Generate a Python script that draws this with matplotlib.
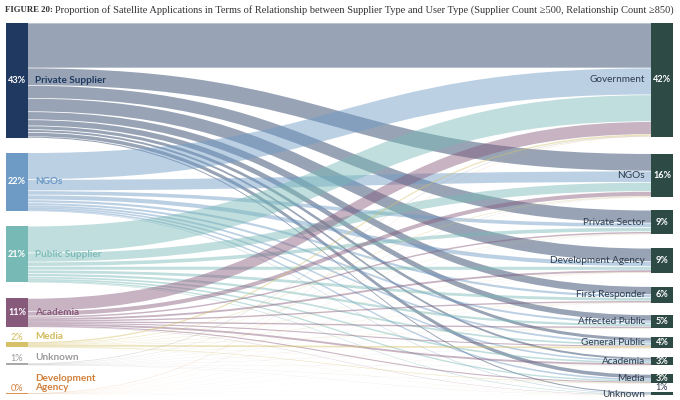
import numpy as np
import matplotlib
matplotlib.use("Agg")
import matplotlib.pyplot as plt
from matplotlib.path import Path
from matplotlib.patches import PathPatch, Rectangle

# supplier types (left) and user types (right)
suppliers = ["Private Supplier", "NGOs", "Public Supplier", "Academia",
             "Media", "Unknown", "Development\nAgency"]
users = ["Government", "NGOs", "Private Sector", "Development Agency",
         "First Responder", "Affected Public", "General Public",
         "Academia", "Media", "Unknown"]

# share of relationships in % (rows = suppliers, cols = users)
flows = np.array([
    [16.8, 6.5, 4.8, 5.0, 3.0, 2.3, 1.4, 1.0, 1.6, 0.4],
    [10.0, 4.2, 1.6, 1.8, 1.1, 1.0, 0.7, 0.6, 0.6, 0.2],
    [10.0, 3.4, 1.6, 1.4, 1.3, 1.1, 0.9, 0.6, 0.5, 0.2],
    [4.8, 1.8, 0.8, 0.7, 0.5, 0.5, 0.4, 0.7, 0.4, 0.1],
    [0.5, 0.2, 0.1, 0.1, 0.1, 0.1, 0.6, 0.05, 0.2, 0.05],
    [0.2, 0.1, 0.05, 0.05, 0.05, 0.05, 0.05, 0.05, 0.05, 0.05],
    [0.1, 0.05, 0.02, 0.03, 0.02, 0.02, 0.02, 0.01, 0.01, 0.02],
])

src_colors = ["#1f3960", "#6e9ac6", "#76b9b5", "#875a7b", "#d6c168", "#a9a9a9", "#e0904e"]
src_text = ["#1f3960", "#6e9ac6", "#7fbdb9", "#875a7b", "#d2bb5a", "#9a9a9a", "#d0803c"]
dst_color = "#2d4a45"
dst_text = "#2e3d4f"

# layout (pixel units of the 680x400 canvas)
ky = 2.68
top = 23
left_x0, left_x1 = 6, 28
right_x0, right_x1 = 651, 673
left_gaps = [15, 15, 16, 15, 16]
right_gaps = [17, 13, 14, 14, 12, 9, 9, 9, 9]
bottom = 394

src_val = flows.sum(axis=1)
dst_val = flows.sum(axis=0)

# node positions
src_y = []
y = top
for i, v in enumerate(src_val):
    h = v * ky
    if i == len(src_val) - 1:
        y = bottom - h
    src_y.append((y, y + h))
    if i < len(left_gaps):
        y = y + h + left_gaps[i]

dst_y = []
y = top
for j, v in enumerate(dst_val):
    h = v * ky
    dst_y.append((y, y + h))
    if j < len(right_gaps):
        y = y + h + right_gaps[j]

fig = plt.figure(figsize=(6.8, 4.0), dpi=100)
ax = fig.add_axes([0, 0, 1, 1])
ax.set_xlim(0, 680)
ax.set_ylim(400, 0)
ax.axis("off")

# link offsets
s_off = [a for a, b in src_y]
t_off = [a for a, b in dst_y]
link_y = {}
for i in range(len(suppliers)):
    for j in range(len(users)):
        link_y[(i, j)] = [s_off[i], None]
        s_off[i] += flows[i, j] * ky
for j in range(len(users)):
    for i in range(len(suppliers)):
        link_y[(i, j)][1] = t_off[j]
        t_off[j] += flows[i, j] * ky

xa, xb = left_x1, right_x0
xm = (xa + xb) / 2
for i in range(len(suppliers)):
    for j in range(len(users)):
        h = flows[i, j] * ky
        if h <= 0:
            continue
        sy, ty = link_y[(i, j)]
        # leave a hairline of white between neighbouring bands
        pad = 0.35 if h > 2 else 0.0
        a0, b0 = sy + pad, ty + pad
        a1, b1 = sy + h - pad, ty + h - pad
        verts = [(xa, a0), (xm, a0), (xm, b0), (xb, b0),
                 (xb, b1), (xm, b1), (xm, a1), (xa, a1), (xa, a0)]
        codes = [Path.MOVETO, Path.CURVE4, Path.CURVE4, Path.CURVE4,
                 Path.LINETO, Path.CURVE4, Path.CURVE4, Path.CURVE4, Path.CLOSEPOLY]
        ax.add_patch(PathPatch(Path(verts, codes), facecolor=src_colors[i],
                               edgecolor="none", alpha=0.46, zorder=1))

lato = ["Lato", "DejaVu Sans"]

# left nodes
for i, name in enumerate(suppliers):
    y0, y1 = src_y[i]
    h = max(y1 - y0, 1.2)
    ax.add_patch(Rectangle((left_x0, y0), left_x1 - left_x0, h,
                           facecolor=src_colors[i], edgecolor="none", zorder=3))
    pct = "%d%%" % round(src_val[i])
    if h > 20:
        yc = (y0 + y1) / 2
        ax.text((left_x0 + left_x1) / 2, yc, pct, color="white", fontsize=6.6,
                fontweight="bold", ha="center", va="center", family=lato, zorder=4)
        ax.text(35, yc, name, color=src_text[i], fontsize=7.2, fontweight="bold",
                ha="left", va="center", family=lato, zorder=4)
    else:
        ax.text((left_x0 + left_x1) / 2, y0 - 5, pct, color=src_text[i], fontsize=6.6,
                ha="center", va="center", family=lato, zorder=4)
        ax.text(35, y0 - 1.5, name, color=src_text[i], fontsize=7.2, fontweight="bold",
                ha="left", va="bottom", family=lato, zorder=4, linespacing=1.0)

# right nodes
for j, name in enumerate(users):
    y0, y1 = dst_y[j]
    h = max(y1 - y0, 1.2)
    ax.add_patch(Rectangle((right_x0, y0), right_x1 - right_x0, h,
                           facecolor=dst_color, edgecolor="none", zorder=3))
    pct = "%d%%" % round(dst_val[j])
    yc = (y0 + y1) / 2
    if h > 6:
        ax.text((right_x0 + right_x1) / 2, yc, pct, color="white", fontsize=6.6,
                fontweight="bold", ha="center", va="center", family=lato, zorder=4)
        ax.text(645, yc, name, color=dst_text, fontsize=7.2, ha="right",
                va="center", family=lato, zorder=4)
    else:
        ax.text((right_x0 + right_x1) / 2, y0 - 5, pct, color=dst_text, fontsize=6.6,
                ha="center", va="center", family=lato, zorder=4)
        ax.text(645, yc + 1, name, color=dst_text, fontsize=7.2, ha="right",
                va="center", family=lato, zorder=4)

# title
serif = ["Liberation Serif", "DejaVu Serif"]
t1 = fig.text(5 / 680, 1 - 10 / 400, "FIGURE 20:", fontsize=6.3, fontweight="bold",
              color="#333333", family=serif, va="center")
fig.canvas.draw()
bb = t1.get_window_extent()
fig.text((bb.x1 + 2) / 680, 1 - 10 / 400,
         "Proportion of Satellite Applications in Terms of Relationship between Supplier Type "
         "and User Type (Supplier Count \u2265500, Relationship Count \u2265850)",
         fontsize=7.5, color="#333333", family=serif, va="center")

fig.savefig("out.png", dpi=100)
